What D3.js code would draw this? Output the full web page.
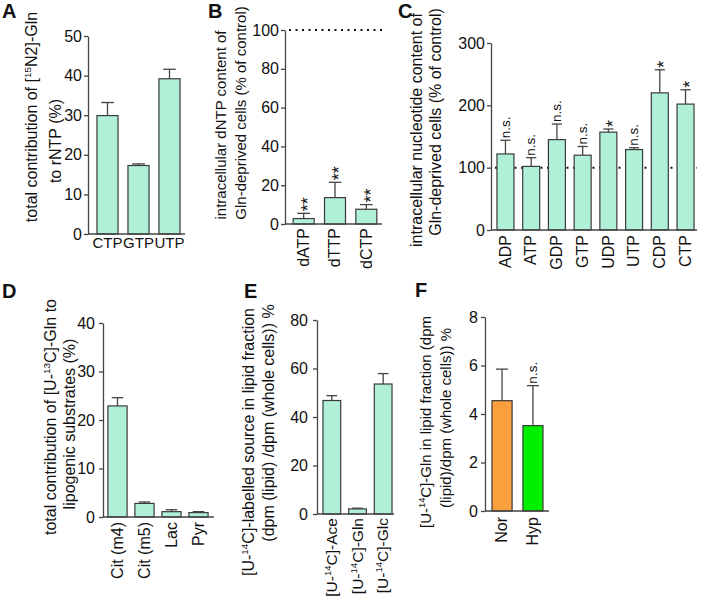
<!DOCTYPE html>
<html><head><meta charset="utf-8">
<script src="https://cdn.jsdelivr.net/npm/d3@7"></script>
<style>
body{margin:0;background:#fff;}
svg text{font-family:"Liberation Sans",Arial,Helvetica,sans-serif;fill:#111;}
</style></head><body>
<svg id="c" width="709" height="600"></svg>
<script>
// ---------------- data ----------------
const aCats = ["CTP","GTP","UTP"];
const aVals = [29.9, 17.3, 39.2];
const aErrs = [3.3, 0.4, 2.4];
const aTicks = [0,10,20,30,40,50];

const bCats = ["dATP","dTTP","dCTP"];
const bVals = [2.8, 13.6, 7.6];
const bErrs = [2.7, 7.9, 2.4];
const bSig = ["**","**","**"];
const bTicks = [0,20,40,60,80,100];
const bRef = 100;

const cCats = ["ADP","ATP","GDP","GTP","UDP","UTP","CDP","CTP"];
const cVals = [122, 102, 145, 120, 157, 129, 220, 202];
const cErrs = [22, 14, 25, 14, 5, 3, 37, 23];
const cSig = ["n.s.","n.s.","n.s.","n.s.","*","n.s.","*","*"];
const cTicks = [0,100,200,300];
const cRef = 100;

const dCats = ["Cit (m4)","Cit (m5)","Lac","Pyr"];
const dVals = [22.9, 2.8, 1.1, 0.9];
const dErrs = [1.7, 0.3, 0.4, 0.2];
const dTicks = [0,10,20,30,40];

const eCats = ["[U-^14C]-Ace","[U-^14C]-Gln","[U-^14C]-Glc"];
const eVals = [46.8, 2.1, 53.6];
const eErrs = [2.0, 0.3, 4.3];
const eTicks = [0,20,40,60,80];

const fCats = ["Nor","Hyp"];
const fVals = [4.55, 3.52];
const fErrs = [1.3, 1.65];
const fSig = ["","n.s."];
const fTicks = [0,2,4,6,8];

const mint = "#b0f0d7";
const fColors = ["#fa9f3e","#00f000"];

// ---------------- helpers ----------------
const svg = d3.select("#c");
const axisCol = "#444";

function rich(sel, str, fs){
  sel.text(null);
  const parts = str.split(/\^(\d+)/);
  let down = false;
  parts.forEach((p,i)=>{
    if(!p) return;
    if(i%2===1){
      sel.append("tspan").attr("font-size", fs*0.62).attr("dy", -fs*0.38).text(p);
      down = true;
    } else {
      const t = sel.append("tspan").text(p);
      if(down){ t.attr("dy", fs*0.38); down=false; }
    }
  });
}

function panel(o){
  const g = svg.append("g");
  const y = d3.scaleLinear().domain([0, o.yMax]).range([o.yB, o.yT]);
  const x = d3.scaleBand().domain(o.cats).range(o.xr).paddingInner(o.pi).paddingOuter(o.pi/2);
  const bw = x.bandwidth();

  // y axis
  const ya = g.append("g").attr("transform",`translate(${o.ax},0)`)
    .call(d3.axisLeft(y).tickValues(o.ticks).tickSize(4).tickSizeOuter(0).tickPadding(o.tp));
  ya.attr("font-size", o.tfs).attr("font-family", null).attr("color", axisCol);
  ya.selectAll("path,line").attr("stroke-width", 1.3);
  ya.selectAll("text").attr("fill","#111");

  // reference dotted line
  if(o.ref !== undefined){
    g.append("line").attr("x1", o.ax+4).attr("x2", o.xEnd)
      .attr("y1", y(o.ref)).attr("y2", y(o.ref))
      .attr("stroke","#111").attr("stroke-width",2)
      .attr("stroke-dasharray","2,4.5");
  }

  // bars
  g.selectAll("rect.bar").data(o.cats).enter().append("rect")
    .attr("x", d=>x(d)).attr("width", bw)
    .attr("y", (d,i)=>y(o.vals[i])).attr("height", (d,i)=>o.yB - y(o.vals[i]))
    .attr("fill", (d,i)=> o.colors ? o.colors[i] : mint)
    .attr("stroke","#3a3a3a").attr("stroke-width",1.2);

  // error bars
  o.cats.forEach((c,i)=>{
    const cx = x(c)+bw/2, y0 = y(o.vals[i]), y1 = y(o.vals[i]+o.errs[i]);
    const cw = Math.max(4, bw*0.3);
    g.append("line").attr("x1",cx).attr("x2",cx).attr("y1",y0).attr("y2",y1)
      .attr("stroke","#444").attr("stroke-width",1.3);
    g.append("line").attr("x1",cx-cw).attr("x2",cx+cw).attr("y1",y1).attr("y2",y1)
      .attr("stroke","#444").attr("stroke-width",1.3);
    if(o.sig && o.sig[i]){
      const s = o.sig[i];
      const isStar = s.indexOf("*")>=0;
      const sfs = isStar ? 18 : 13.5;
      const off = isStar ? 0.58*sfs : 0.3*sfs;
      g.append("text").attr("font-size", sfs)
        .attr("transform",`translate(${cx+off},${y1-2}) rotate(-90)`)
        .attr("text-anchor","start").text(s);
    }
  });

  // x axis
  const xa = g.append("g").attr("transform",`translate(0,${o.yB})`)
    .call(d3.axisBottom(x).tickSize(0).tickPadding(0));
  xa.select(".domain").remove();
  xa.attr("font-size", o.cfs).attr("font-family", null);
  xa.selectAll("text").attr("fill","#111");
  if(o.rot){
    xa.selectAll("text").each(function(d){
      const t = d3.select(this);
      t.attr("dy", null).attr("y", 0.33*o.cfs).attr("x", -o.gap)
       .attr("transform","rotate(-90)").attr("text-anchor","end");
      rich(t, d, o.cfs);
    });
  } else {
    xa.selectAll("text").attr("y", o.gap).attr("dy","0.71em");
  }
  g.append("line").attr("x1", o.ax).attr("x2", o.xEnd).attr("y1", o.yB).attr("y2", o.yB)
    .attr("stroke", axisCol).attr("stroke-width",1.3);

  // titles
  o.titles.forEach((t,i)=>{
    const te = g.append("text").attr("font-size", o.lfs).attr("text-anchor","middle")
      .attr("transform",`translate(${o.tx[i]+0.25*o.lfs},${o.ty[i]}) rotate(-90)`);
    rich(te, t, o.lfs);
  });

  // panel letter
  g.append("text").attr("x", o.lx).attr("y", o.ly).attr("font-size", 20)
    .attr("font-weight","bold").text(o.letter);
}

panel({letter:"A", lx:2, ly:18, cats:aCats, vals:aVals, errs:aErrs, ticks:aTicks, yMax:50,
  ax:88, yB:234, yT:36, xr:[92,185], pi:0.32, xEnd:185, rot:false, gap:3, tp:2,
  tfs:16, cfs:15, lfs:16,
  titles:["total contribution of [^15N2]-Gln","to rNTP (%)"], tx:[33,57], ty:[117,141]});

panel({letter:"B", lx:208, ly:18, cats:bCats, vals:bVals, errs:bErrs, sig:bSig, ticks:bTicks, yMax:100,
  ax:285, yB:224, yT:30, xr:[288,382], pi:0.33, xEnd:382, rot:true, gap:4, ref:bRef, tp:2,
  tfs:16, cfs:16, lfs:15,
  titles:["intracellular dNTP content of","Gln-deprived cells (% of control)"], tx:[222,242], ty:[125,113]});

panel({letter:"C", lx:398, ly:18, cats:cCats, vals:cVals, errs:cErrs, sig:cSig, ticks:cTicks, yMax:300,
  ax:491, yB:230, yT:43, xr:[492.6,698.4], pi:0.34, xEnd:697, rot:true, gap:5, ref:cRef, tp:2,
  tfs:16, cfs:16, lfs:16,
  titles:["intracellular nucleotide content of","Gln-deprived cells (% of control)"], tx:[418,437], ty:[130,122]});

panel({letter:"D", lx:2, ly:298, cats:dCats, vals:dVals, errs:dErrs, ticks:dTicks, yMax:40,
  ax:103, yB:517, yT:323, xr:[104,212], pi:0.29, xEnd:214, rot:true, gap:5, tp:4,
  tfs:16, cfs:16, lfs:16,
  titles:["total contribution of [U-^13C]-Gln to","lipogenic substrates (%)"], tx:[52,71], ty:[417,424]});

panel({letter:"E", lx:244, ly:298, cats:eCats, vals:eVals, errs:eErrs, ticks:eTicks, yMax:80,
  ax:317, yB:514, yT:320, xr:[319,396], pi:0.31, xEnd:394, rot:true, gap:4, tp:5,
  tfs:16, cfs:15.5, lfs:16,
  titles:["[U-^14C]-labelled source in lipid fraction","(dpm (lipid) /dpm (whole cells)) %"], tx:[250,270], ty:[442,423]});

panel({letter:"F", lx:415, ly:297, cats:fCats, vals:fVals, errs:fErrs, sig:fSig, colors:fColors, ticks:fTicks, yMax:8,
  ax:485, yB:511, yT:317, xr:[486.6,548.4], pi:0.35, xEnd:549, rot:true, gap:6, tp:3,
  tfs:16, cfs:16, lfs:15,
  titles:["[U-^14C]-Gln in lipid fraction (dpm","(lipid)/dpm (whole cells)) %"], tx:[427,447], ty:[422,418]});
</script>
</body></html>
